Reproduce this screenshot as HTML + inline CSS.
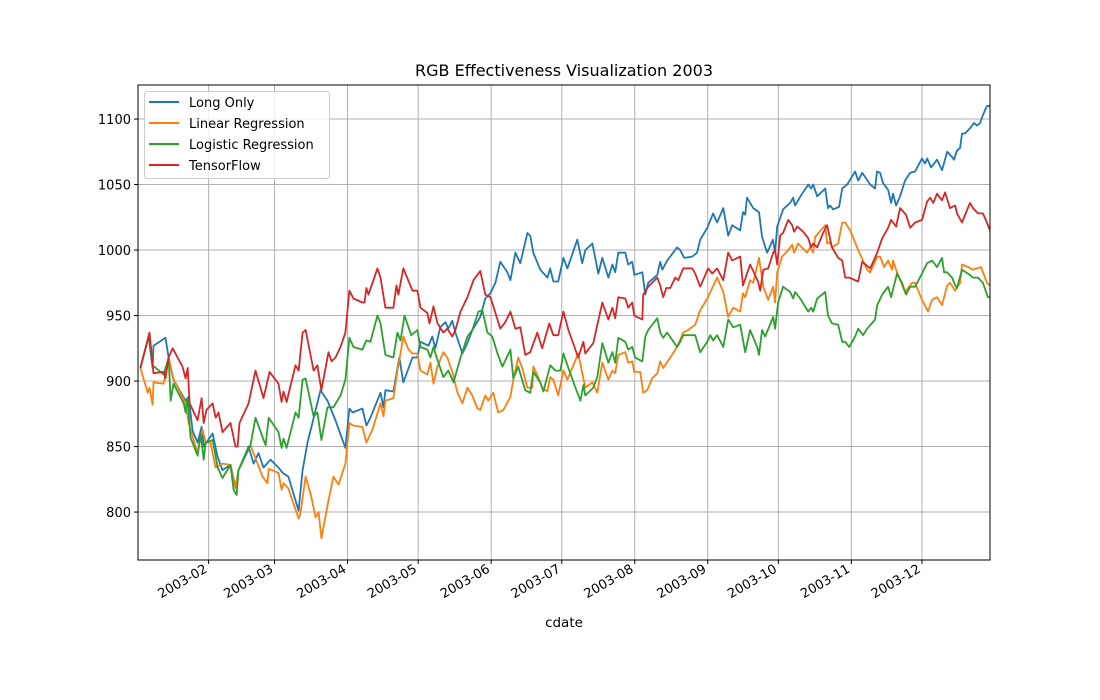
<!DOCTYPE html>
<html><head><meta charset="utf-8"><title>RGB Effectiveness Visualization 2003</title>
<style>
html,body{margin:0;padding:0;background:#fff;}
svg{display:block;font-family:"DejaVu Sans","Liberation Sans",sans-serif;}
</style></head>
<body>
<svg id="chart" width="1100" height="700" viewBox="0 0 1100 700" xmlns="http://www.w3.org/2000/svg">
<rect width="1100" height="700" fill="#fff"/>
<text x="564" y="76" text-anchor="middle" font-size="16" fill="#000">RGB Effectiveness Visualization 2003</text>
<g id="grid"></g>
<g id="series"></g>
<rect x="138" y="85" width="852" height="475" fill="none" stroke="#000" stroke-width="1"/>
<g id="axes"></g>
<text x="564" y="627" text-anchor="middle" font-size="13.5" fill="#000">cdate</text>
<g id="legend"></g>
</svg>
<script>
const xTickDays = [31, 59, 90, 120, 151, 181, 212, 243, 273, 304, 334];
const xTickLabels = ["2003-02","2003-03","2003-04","2003-05","2003-06","2003-07","2003-08","2003-09","2003-10","2003-11","2003-12"];
const yTickValues = [800, 850, 900, 950, 1000, 1050, 1100];
const seriesNames = ["Long Only","Linear Regression","Logistic Regression","TensorFlow"];

const longOnlyDays = [2,5.5,7.2,7.6,12.7,14,16.1,21.2,22.5,24.2,26.3,28,28.9,32.7,34.8,36.9,40.3,42.4,43.7,48,50.1,52.2,54.3,57.3,60.7,62.4,64.9,69.2,70.9,73,75.1,78.5,81.5,84.9,89.1,90.8,92.1,96.3,98,99.7,104,105.3,106.1,109.5,112,113.7,117.6,119.7,121,124.4,126,127.3,129.4,131.6,132.8,134.5,135.8,138.8,140.9,143,146.4,148.5,150.7,152.8,154.9,157.9,159.2,161.3,163.4,166.4,167.6,168.9,171.9,174.9,176.1,177.4,179.5,181.7,183.4,187.6,189.7,191,194,196.5,198.2,200.8,202.5,203.7,205,208,209.2,210.9,211.8,215.2,216.5,217.7,221.6,222.8,223.7,225.8,230,231.3,233,236.4,238.5,239.8,242.8,245.3,247,249.6,251.7,253.4,256.8,258,258.9,259.7,262.3,264.8,266.1,268.2,270.7,271.6,272.5,275,278,279.3,280.1,283.1,285.7,286.9,287.8,289.5,292.9,294.1,295,296.3,298.8,300.1,302.2,305.6,306.9,308.6,312,314.1,314.9,316.2,317.5,319.6,320.9,321.7,323,324.7,326.8,329,331.1,334,335.3,336.2,337.9,340.4,342.5,344.7,346.8,347.6,348.9,350.2,351,352.3,354.4,356.1,357.4,358.7,359.9,361.6,362.9];
const longOnlyValues = [910,934,910,927,933,918,901,885,888,862,853,865,850,860,842,832,836,819,832,850,837,845,834,840,834,830,827,801,832,853,868,893,885,870,849,879,876,879,866,872,891,880,893,892,918,899,918,918,930,927,934,925,941,945,940,946,937,921,929,939,949,963,967,975,991,983,977,998,990,1013,1011,998,985,979,986,976,976,994,986,1008,990,1000,1005,982,994,979,989,983,998,998,989,991,981,983,966,975,981,991,985,992,1002,1000,994,995,998,1008,1017,1028,1021,1032,1011,1019,1015,1029,1027,1040,1032,1029,1010,998,1008,998,1018,1031,1036,1040,1034,1043,1050,1047,1050,1041,1047,1032,1034,1031,1033,1047,1050,1060,1053,1059,1050,1047,1060,1059,1051,1046,1036,1043,1034,1041,1053,1059,1060,1070,1066,1070,1063,1069,1061,1075,1071,1069,1076,1078,1089,1089,1093,1097,1095,1097,1103,1110,1110];

const linRegDays = [2,5.1,5.9,7.2,7.6,11.9,14,15.7,21.2,22.5,26.3,28.4,29.7,31.8,33.9,36.9,40.3,42.4,43.7,48.8,53.9,56,56.5,60.7,62,62.8,64.9,69.2,70,72.2,74.3,76.4,77.7,78.9,81.9,84,86.2,89.1,90.8,92.5,96.3,98,100.6,104,105.3,106.1,109.5,111.2,112.5,113.7,115.9,117.6,119.7,121,123.9,125.2,126.5,128.2,130.7,132.4,134.5,136.7,138.8,140.9,143,145.2,146.4,148.5,149.8,151.9,154,156.2,159.2,160.4,162.5,164.2,166.4,168.5,168.9,171,172.7,174.9,176.1,177.4,179.5,181.7,183.4,185.9,188,191,194,196.1,198.2,200.8,202.5,203.7,205,208,209.2,210.9,211.8,214.3,215.6,217.3,219.4,221.6,222.8,224.1,227.1,230,232.6,234.7,237.7,239.8,242.8,247,249.6,251.7,253.8,256.8,258,258.9,261,262.3,264.8,266.6,268.7,270.8,271.6,272.5,274.6,277.2,278.9,279.7,281.4,285.2,286.5,287.8,288.6,292.9,293.7,295,295.8,298.4,300.1,301.4,303.5,306.9,310.7,312,315,316.2,317.9,319.6,321.3,321.7,323.4,326.8,329.8,331.1,334,336.6,338.3,340.4,342.5,344.7,345.9,348.1,350.2,351,353.6,355.7,357.4,359.1,361.6,362.9];
const linRegValues = [910,891,895,882,899,898,918,903,883,868,845,863,853,853,834,837,836,818,832,851,827,822,833,830,817,822,818,795,799,827,814,796,800,780,809,827,821,837,868,866,865,853,863,883,873,885,887,908,921,934,924,921,921,908,905,914,898,911,922,918,907,891,883,895,889,879,878,889,885,891,876,878,888,901,918,910,895,895,911,903,895,892,903,901,889,908,901,912,921,895,899,891,914,901,908,906,920,922,914,915,907,907,891,893,902,906,915,910,918,926,937,939,943,954,963,979,968,949,956,953,967,964,977,975,994,972,962,972,960,983,995,1000,1004,998,1005,998,1002,998,1010,1019,1005,1006,1002,1005,1021,1021,1015,1000,985,983,995,995,987,992,985,992,983,968,975,975,962,953,962,964,958,973,975,969,975,989,987,985,986,987,975,973];

const logRegDays = [2,5.5,7.2,11.9,14,14.9,16.1,20.4,21.2,22.1,23.3,26.3,27.6,28.9,29.7,32.7,34.8,36.9,40.3,41.6,42.9,43.7,48.8,50.9,55.2,56.5,60.7,62,62.8,64.1,67.9,69.2,70.9,72.2,75.6,77.2,78.9,81.5,84,87,89.1,90.8,92.5,96.3,98,99.7,102.7,104,106.1,109.5,111.2,112.5,114.2,117.1,119.7,121,123.9,125.2,126.5,128.2,130.7,132.8,135,138,140.9,143,145.6,147.3,149.4,151.5,153.7,155.8,159.2,160.4,162.5,165.5,167.6,168.9,171.9,173.2,176.1,178.3,180.4,181.7,184.6,186.8,188.9,190.2,191,194.4,196.1,198.2,200.8,202.5,203.7,205,208,209.2,210.9,212.2,215.2,216.5,217.7,221.6,222.8,224.1,225.8,230,231.3,232.6,237.7,239.8,242.8,244.1,245.3,247,249.6,251.7,253.8,256.8,258.9,261,264,264.8,266.1,267.4,270.8,271.6,272.9,275,278,279.3,280.1,282.3,285.7,286.9,287.8,289.5,292.9,294.1,295.8,298.4,300.1,301.4,303.1,305.6,306.9,309,310.7,314.1,315,317.1,319.6,320.9,323.4,325.5,327.2,329,331.1,334,336.2,338.3,340.4,342.5,343.4,344.7,346.8,348.1,348.9,351,353.6,355.7,357.8,359.9,362,362.9];
const logRegValues = [910,934,912,905,918,885,898,883,876,887,857,843,860,840,853,855,834,826,836,817,813,832,851,872,851,872,861,849,856,849,876,872,901,902,873,876,855,880,880,889,901,933,926,924,931,930,950,944,920,918,937,931,950,935,939,926,924,918,926,916,903,908,899,918,934,939,953,954,937,934,921,911,924,902,911,893,891,907,899,892,912,908,908,921,906,895,885,897,889,895,903,929,914,922,914,933,930,924,926,918,915,934,939,948,937,933,937,926,930,935,935,922,930,935,931,935,926,947,941,943,922,939,926,920,939,934,949,940,960,972,968,963,968,963,953,956,953,963,968,950,944,943,930,930,926,934,940,935,940,947,958,966,972,964,982,975,966,972,972,982,990,992,987,994,983,983,979,973,971,985,982,979,979,975,964,964];

const tensorFlowDays = [2,5.9,7.6,11.9,12.7,14,15.7,19.9,21.2,22.1,22.9,26.3,28,28.9,30.1,32.7,34,35.2,36.9,40.3,42.4,43.3,44.1,48,50.9,54.3,56.9,60.7,62,62.8,64.1,67.9,69.2,70.9,72.2,75.6,77.2,78.9,81.9,83.2,84.9,87,89.1,90.8,92.5,96.3,97.2,98,98.9,102.7,104,106.1,109.5,110.8,111.6,113.7,117.6,119.7,121,123.9,124.8,126.5,128.2,130.7,132.4,134.5,135.8,138,140.9,143.5,146.4,148.5,150.7,152.8,154.9,157,159.2,161.3,163.4,165.5,167.6,170.6,172.7,175.7,177.4,179.5,181.7,183.8,188,190.2,191,194.4,198.2,200.8,202.5,203.7,205,208,209.2,210.9,211.8,215.2,215.6,217.7,221.6,222.8,224.1,225.4,227.1,229.2,230.5,232.6,236.4,237.7,239.8,243.2,244.9,247,249.6,251.7,253.4,256.8,258,261,264.4,265.3,266.6,268.7,270.8,271.6,272.5,273.8,275,277.2,278.9,279.7,281,283.5,285.7,286.9,287.8,289.5,292,293.7,295.8,298.4,300.1,301.4,303.1,306.9,308.6,312,314.5,315,317.1,319.6,320.9,323,324.7,327.2,329,331.1,334,336.2,337.5,338.8,340.4,342.5,343.8,345.9,348.1,348.9,351,354.4,355.7,357.8,359.9,361.6,362.9];
const tensorFlowValues = [910,937,906,907,902,918,925,911,902,910,883,870,887,868,878,883,872,876,861,868,850,850,868,883,908,887,907,898,884,892,884,912,908,937,939,908,912,893,922,915,918,926,937,969,963,960,960,971,966,986,979,956,956,973,966,986,969,969,956,952,944,957,944,937,940,934,939,953,964,977,984,966,964,952,940,945,953,940,941,920,922,937,925,944,935,935,953,939,918,930,921,929,960,947,956,948,964,963,956,960,950,947,966,972,979,973,964,971,971,979,977,986,986,982,972,986,982,986,977,998,992,995,973,989,976,969,985,986,998,1000,989,1011,1013,1023,1019,1014,1018,1014,1009,1002,1005,1002,1013,1019,1002,994,992,979,979,976,991,986,996,998,1009,1017,1023,1018,1032,1027,1017,1021,1023,1037,1040,1036,1043,1038,1044,1032,1034,1028,1021,1036,1032,1028,1028,1021,1015,1014];

const X0 = 138, X1 = 990, Y0 = 85, Y1 = 560;
const dMin = 1, dMax = 362.9, vMin = 763.4, vMax = 1126;
function xScale(d){ return X0 + (d - dMin) / (dMax - dMin) * (X1 - X0); }
function yScale(v){ return Y1 - (v - vMin) / (vMax - vMin) * (Y1 - Y0); }
const NS = "http://www.w3.org/2000/svg";
function mk(tag, attrs, parent){ const e = document.createElementNS(NS, tag); for (const k in attrs) e.setAttribute(k, attrs[k]); parent.appendChild(e); return e; }

const grid = document.getElementById('grid');
const axes = document.getElementById('axes');
xTickDays.forEach((d, i) => {
  const x = xScale(d);
  const gl = mk('line', {x1:x, x2:x, y1:Y0, y2:Y1, stroke:'#b0b0b0', 'stroke-width':1}, grid);
  
  
  const tk = mk('line', {x1:x, x2:x, y1:Y1, y2:Y1+4, stroke:'#000', 'stroke-width':1}, axes);
  
  
  const t = mk('text', {x:x-3, y:Y1+12, 'text-anchor':'end', 'font-size':13, fill:'#000', transform:'rotate(-30 '+(x-3)+' '+(Y1+7)+')'}, axes);
  t.textContent = xTickLabels[i];
  
  
});
yTickValues.forEach(v => {
  const y = yScale(v);
  const gl = mk('line', {x1:X0, x2:X1, y1:y, y2:y, stroke:'#b0b0b0', 'stroke-width':1}, grid);
  
  
  const tk = mk('line', {x1:X0-4, x2:X0, y1:y, y2:y, stroke:'#000', 'stroke-width':1}, axes);
  
  
  const t = mk('text', {x:X0-7, y:y+5, 'text-anchor':'end', 'font-size':13, fill:'#000'}, axes);
  t.textContent = String(v);
  
  
});

const colors = ['#1f77b4','#ff7f0e','#2ca02c','#d62728'];
const allDays = [longOnlyDays, linRegDays, logRegDays, tensorFlowDays];
const allValues = [longOnlyValues, linRegValues, logRegValues, tensorFlowValues];
const lineNames = ['long-only-line','linear-regression-line','logistic-regression-line','tensorflow-line'];
const seriesG = document.getElementById('series');
allDays.forEach((days, s) => {
  const vals = allValues[s];
  const pts = days.map((d, i) => xScale(d).toFixed(1) + ',' + yScale(vals[i]).toFixed(1)).join(' ');
  const pl = mk('polyline', {points:pts, fill:'none', stroke:colors[s], 'stroke-width':1.8, 'stroke-linejoin':'round', 'clip-path':'url(#clip)'}, seriesG);
  
  
});
const defs = mk('defs', {}, document.getElementById('chart'));
const cp = mk('clipPath', {id:'clip'}, defs);
mk('rect', {x:X0, y:Y0, width:X1-X0, height:Y1-Y0}, cp);

const lg = document.getElementById('legend');
const box = mk('rect', {x:144.5, y:91.5, width:185, height:87, rx:3, fill:'#fff', 'fill-opacity':0.8, stroke:'#cccccc', 'stroke-width':1}, lg);


seriesNames.forEach((n, i) => {
  const y = 102 + i * 21;
  const ln = mk('line', {x1:149, x2:179, y1:y, y2:y, stroke:colors[i], 'stroke-width':2}, lg);
  
  
  const t = mk('text', {x:189, y:y+5, 'font-size':13, fill:'#000'}, lg);
  t.textContent = n;
  
  
});
</script>
</body></html>
